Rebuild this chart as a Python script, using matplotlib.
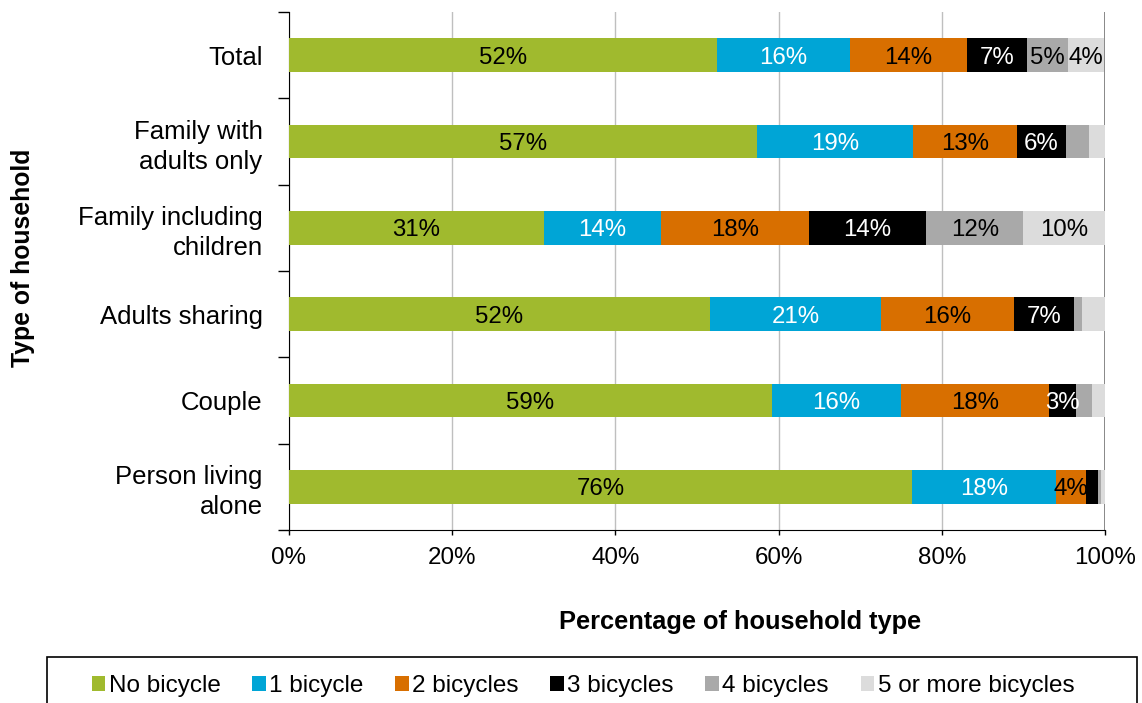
import matplotlib
matplotlib.use("Agg")
import matplotlib.pyplot as plt
from matplotlib.patches import Rectangle
import numpy as np

plt.rcParams['font.family'] = ['Liberation Sans', 'DejaVu Sans']

categories = ["Total", "Family with\nadults only", "Family including\nchildren",
              "Adults sharing", "Couple", "Person living\nalone"]
series_names = ["No bicycle", "1 bicycle", "2 bicycles", "3 bicycles", "4 bicycles", "5 or more bicycles"]
no_bicycle = [52.5, 57.3, 31.2, 51.6, 59.2, 76.4]
one_bicycle = [16.2, 19.2, 14.4, 20.9, 15.8, 17.6]
two_bicycles = [14.4, 12.7, 18.1, 16.4, 18.1, 3.7]
three_bicycles = [7.3, 6.0, 14.4, 7.3, 3.3, 1.4]
four_bicycles = [5.1, 2.9, 11.9, 1.0, 2.0, 0.4]
five_plus = [4.4, 1.9, 10.0, 2.8, 1.6, 0.5]
x_ticks = [0, 20, 40, 60, 80, 100]
x_tick_labels = ["0%", "20%", "40%", "60%", "80%", "100%"]

series = [no_bicycle, one_bicycle, two_bicycles, three_bicycles, four_bicycles, five_plus]
colors = ["#A0BA2E", "#00A5D6", "#D86F00", "#000000", "#A9A9A9", "#DCDCDC"]
text_colors = ["black", "white", "black", "white", "black", "black"]

W, H = 1142, 703
fig = plt.figure(figsize=(W/100, H/100), dpi=100)
ax = fig.add_axes([289/W, 1-530/H, (1105-289)/W, (530-12)/H])

y = np.arange(len(categories))
left = np.zeros(len(categories))
for vals, name, c, tc in zip(series, series_names, colors, text_colors):
    vals = np.array(vals)
    ax.barh(y, vals, left=left, height=0.39, color=c, label=name, zorder=3)
    for yi, (l, v) in enumerate(zip(left, vals)):
        if v >= 3:
            ax.text(l + v/2, yi, f"{int(round(v))}%", ha="center", va="center_baseline",
                    color=tc, fontsize=17.3, zorder=4)
    left += vals

ax.set_xlim(0, 100)
ax.set_ylim(len(categories) - 0.5, -0.5)
ax.set_xticks(x_ticks)
ax.set_xticklabels(x_tick_labels, fontsize=17.4)
ax.set_yticks(y)
ax.set_yticklabels(categories, fontsize=18.5, linespacing=1.3)
ax.set_yticks(np.arange(-0.5, len(categories)), minor=True)
ax.tick_params(axis='y', which='major', length=0, pad=19)
ax.tick_params(axis='y', which='minor', length=8, color='black', width=1)
ax.tick_params(axis='x', length=3.5, color='black', width=1, pad=9)
ax.xaxis.grid(True, color='#bfbfbf', linewidth=1, zorder=0)
for s in ["top", "right"]:
    ax.spines[s].set_visible(False)
ax.spines["left"].set_color('black')
ax.spines["bottom"].set_color('black')
ax.axvline(100, color='#808080', linewidth=1.3, zorder=2)

fig.text(740/W, 1-622/H, "Percentage of household type", ha="center", va="center",
         fontsize=18.3, fontweight="bold")
fig.text(23/W, 1-258/H, "Type of household", ha="center", va="center",
         fontsize=17.8, fontweight="bold", rotation=90)

# legend frame
fig.patches.append(Rectangle((47/W, -0.05), (1137-47)/W, 0.05 + (703-657)/H,
                             transform=fig.transFigure, fill=False, edgecolor='black',
                             linewidth=1.2, zorder=5))
handles, labels = ax.get_legend_handles_labels()
leg = fig.legend(handles, labels, loc="center", bbox_to_anchor=(583/W, 1-686/H),
                 ncol=6, fontsize=17.5, frameon=False,
                 handlelength=0.55, handleheight=0.55, handletextpad=0.15, borderaxespad=0,
                 borderpad=0, columnspacing=1.3)

fig.savefig("out.png", dpi=100)
